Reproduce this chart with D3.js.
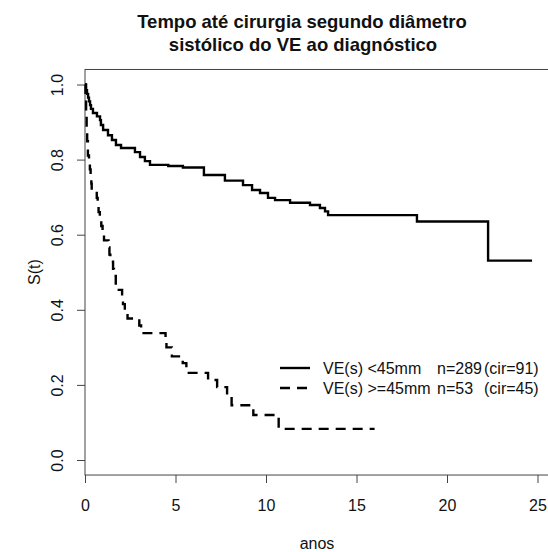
<!DOCTYPE html>
<html>
<head>
<meta charset="utf-8">
<script src="https://cdn.jsdelivr.net/npm/d3@7"></script>
<style>
  body { margin: 0; background: #fff; }
  svg { display: block; font-family: Arial, "Liberation Sans", sans-serif; }
</style>
</head>
<body>
<script>
// Kaplan-Meier estimates
const solidTimes = [0, 0.06, 0.11, 0.17, 0.22, 0.28, 0.33, 0.44, 0.66, 0.83, 0.88, 1.0, 1.27, 1.49, 1.71, 1.99,
  2.76, 3.04, 3.31, 3.59, 4.6, 5.41, 6.57, 7.73, 8.73, 9.23, 9.67, 10.11, 10.5, 11.33, 12.43, 12.98, 13.26, 13.43,
  18.34, 22.27, 24.7];
const solidSurv = [1, 0.985, 0.975, 0.965, 0.955, 0.945, 0.935, 0.924, 0.915, 0.905, 0.892, 0.879, 0.865, 0.852, 0.839, 0.831,
  0.82, 0.807, 0.796, 0.786, 0.783, 0.779, 0.759, 0.744, 0.732, 0.719, 0.711, 0.698, 0.692, 0.685, 0.679, 0.671, 0.662, 0.652,
  0.635, 0.531, 0.531];

const dashTimes = [0, 0.03, 0.06, 0.09, 0.12, 0.16, 0.22, 0.27, 0.31, 0.35, 0.37, 0.65, 0.7, 0.75, 0.82, 0.9, 0.97, 1.05,
  1.3, 1.35, 1.4, 1.55, 1.6, 1.7, 2.05, 2.1, 2.2, 2.35, 3.0, 3.1, 4.45, 4.5, 4.8, 5.4, 5.6, 6.8, 7.3, 7.85, 8.1, 9.3, 10.7, 16.0];
const dashSurv = [1, 0.962, 0.925, 0.887, 0.849, 0.811, 0.792, 0.774, 0.755, 0.736, 0.717, 0.698, 0.679, 0.66, 0.642, 0.623, 0.604, 0.585,
  0.566, 0.547, 0.528, 0.509, 0.49, 0.453, 0.434, 0.415, 0.396, 0.377, 0.358, 0.338, 0.32, 0.30, 0.276, 0.258, 0.232, 0.213, 0.194, 0.173, 0.146, 0.12, 0.083, 0.083];

const xTicks = [0, 5, 10, 15, 20, 25];
const yTicks = [0, 0.2, 0.4, 0.6, 0.8, 1.0];

const legendLabels = ["VE(s) <45mm", "VE(s) >=45mm"];
const legendN      = ["n=289", "n=53"];
const legendCir    = ["(cir=91)", "(cir=45)"];

const W = 548, H = 552;
const TEXT = "#111";
const FRAME = "#444";

const svg = d3.select("body").append("svg")
  .attr("width", W)
  .attr("height", H);

const x = d3.scaleLinear().domain([0, 25]).range([85, 537.5]);
const y = d3.scaleLinear().domain([0, 1]).range([460, 84.5]);

// plot box (R style, 4% padding on y, runs off the right edge)
const boxTop = y(1.04), boxBottom = y(-0.04);
svg.append("rect")
  .attr("x", x(0)).attr("y", boxTop)
  .attr("width", 600).attr("height", boxBottom - boxTop)
  .attr("fill", "none").attr("stroke", FRAME).attr("stroke-width", 1);

// x axis
const xAxis = svg.append("g").attr("transform", "translate(0," + boxBottom + ")")
  .call(d3.axisBottom(x).tickValues(xTicks).tickSize(8).tickPadding(17).tickFormat(d3.format("d")));
xAxis.select(".domain").remove();
xAxis.selectAll("line").attr("stroke", FRAME);
xAxis.selectAll("text").attr("font-size", 16).attr("fill", TEXT).attr("font-family", null);

// y axis, labels rotated like R
const yAxis = svg.append("g").attr("transform", "translate(" + x(0) + ",0)")
  .call(d3.axisLeft(y).tickValues(yTicks).tickSize(8).tickFormat(d3.format(".1f")));
yAxis.select(".domain").remove();
yAxis.selectAll("line").attr("stroke", FRAME);
yAxis.selectAll("text")
  .attr("x", null).attr("dy", null)
  .attr("transform", "translate(-22,0) rotate(-90)")
  .attr("text-anchor", "middle")
  .attr("font-size", 16).attr("fill", TEXT).attr("font-family", null);

// curves
const line = d3.line()
  .x(d => x(d[0]))
  .y(d => y(d[1]))
  .curve(d3.curveStepAfter);

svg.append("path")
  .datum(d3.zip(solidTimes, solidSurv))
  .attr("d", line)
  .attr("fill", "none").attr("stroke", "#000").attr("stroke-width", 2.4);

svg.append("path")
  .datum(d3.zip(dashTimes, dashSurv))
  .attr("d", line)
  .attr("fill", "none").attr("stroke", "#000").attr("stroke-width", 2.4)
  .attr("stroke-dasharray", "10,7");

// title
const title = svg.append("text")
  .attr("text-anchor", "middle").attr("font-size", 18.5).attr("font-weight", "bold").attr("fill", TEXT);
title.append("tspan").attr("x", 302).attr("y", 28).text("Tempo até cirurgia segundo diâmetro");
title.append("tspan").attr("x", 303).attr("y", 51).text("sistólico do VE ao diagnóstico");

// axis titles
svg.append("text")
  .attr("x", 317).attr("y", 549)
  .attr("text-anchor", "middle").attr("font-size", 16).attr("fill", TEXT)
  .text("anos");
svg.append("text")
  .attr("transform", "translate(40,272) rotate(-90)")
  .attr("text-anchor", "middle").attr("font-size", 16).attr("fill", TEXT)
  .text("S(t)");

// legend
const legend = svg.append("g");
const legendRows = [368, 388];
legendRows.forEach(function (ly, i) {
  legend.append("line")
    .attr("x1", 280).attr("x2", 310).attr("y1", ly).attr("y2", ly)
    .attr("stroke", "#000").attr("stroke-width", 2.4)
    .attr("stroke-dasharray", i === 1 ? "10,7" : null);
  legend.append("text").attr("x", 323).attr("y", ly + 5.5)
    .attr("font-size", 16).attr("fill", TEXT).text(legendLabels[i]);
  legend.append("text").attr("x", 437).attr("y", ly + 5.5)
    .attr("font-size", 16).attr("fill", TEXT).text(legendN[i]);
  legend.append("text").attr("x", 484).attr("y", ly + 5.5)
    .attr("font-size", 16).attr("fill", TEXT).text(legendCir[i]);
});
</script>
</body>
</html>
